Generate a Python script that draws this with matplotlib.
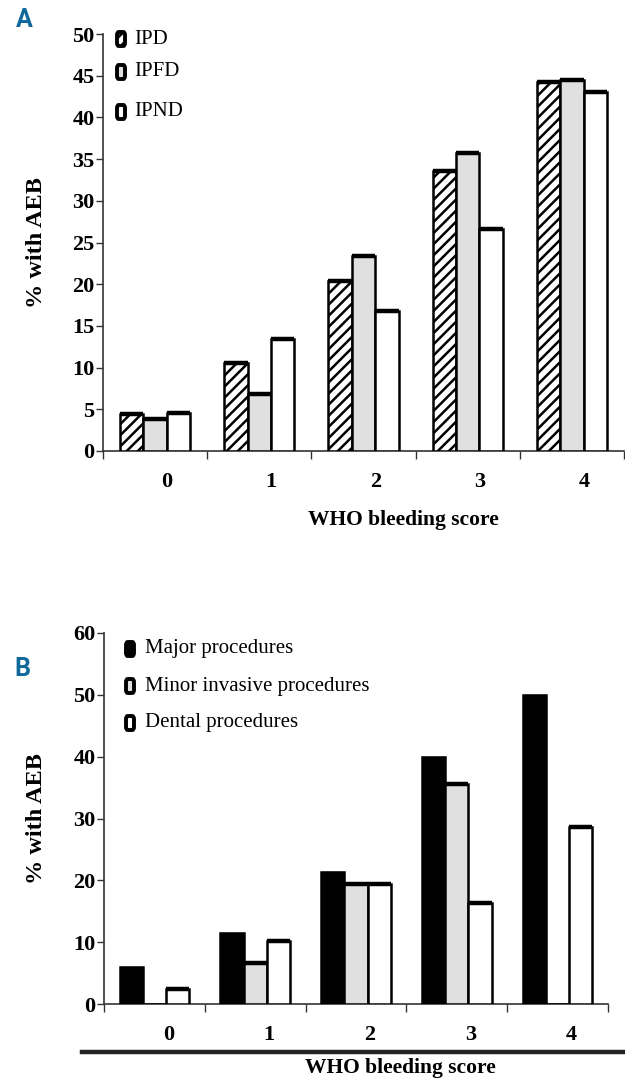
import matplotlib
matplotlib.use("Agg")
import matplotlib.pyplot as plt
import matplotlib.transforms as mtransforms
from matplotlib.lines import Line2D
from matplotlib.patches import FancyBboxPatch
import numpy as np

# ---------------- data ----------------
scores = ["0", "1", "2", "3", "4"]

a_series = ["IPD", "IPFD", "IPND"]
a_ipd = [4.4, 10.6, 20.4, 33.6, 44.2]
a_ipfd = [3.8, 6.8, 23.4, 35.7, 44.5]
a_ipnd = [4.6, 13.4, 16.8, 26.6, 43.0]
a_yticks = [0, 5, 10, 15, 20, 25, 30, 35, 40, 45, 50]

b_series = ["Major procedures", "Minor invasive procedures", "Dental procedures"]
b_major = [6.0, 11.5, 21.4, 40.0, 50.0]
b_minor = [0.0, 6.7, 19.4, 35.6, 0.0]
b_dental = [2.5, 10.2, 19.4, 16.3, 28.6]
b_yticks = [0, 10, 20, 30, 40, 50, 60]

# ---------------- style ----------------
W, H = 625, 1081
DPI = 100
plt.rcParams['hatch.linewidth'] = 1.8
SERIF = ['Liberation Serif', 'DejaVu Serif']
GRAY = '#e0e0e0'
BLUE = '#10699a'
LETTER_FONT = ['Roboto', 'Open Sans', 'DejaVu Sans']

fig = plt.figure(figsize=(W / DPI, H / DPI), dpi=DPI)


def fax(l, t, r, b):
    return [l / W, 1 - b / H, (r - l) / W, (b - t) / H]


def setup_axes(ax, ymax, yticks, label_dx, pad):
    x = np.arange(len(scores))
    ax.set_xlim(-0.5, len(scores) - 0.5)
    ax.set_ylim(0, ymax)
    for s in ['top', 'right']:
        ax.spines[s].set_visible(False)
    for s in ['left', 'bottom']:
        ax.spines[s].set_color('#333333')
        ax.spines[s].set_linewidth(1.2)
    ax.set_xticks(np.arange(-0.5, len(scores)), [])
    ax.tick_params(axis='x', which='major', length=6, width=1.0, color='#333333', direction='out')
    ax.set_xticks(x, scores, minor=True)
    ax.tick_params(axis='x', which='minor', length=0, pad=pad)
    off = mtransforms.ScaledTranslation(label_dx / DPI, 0, fig.dpi_scale_trans)
    for lab in ax.get_xticklabels(minor=True):
        lab.set_fontfamily(SERIF)
        lab.set_fontweight('bold')
        lab.set_fontsize(16)
        lab.set_transform(lab.get_transform() + off)
    ax.set_yticks(yticks, [str(v) for v in yticks])
    ax.tick_params(axis='y', length=5, width=1.0, color='#333333', pad=1)
    for lab in ax.get_yticklabels():
        lab.set_fontfamily(SERIF)
        lab.set_fontweight('bold')
        lab.set_fontsize(16)
    return x


def draw_bars(ax, x, vals, offset, width, face, hatch=None, top_lw=3.2, edge_lw=1.8):
    bars = ax.bar(x + offset, vals, width, color=face, edgecolor='black',
                  linewidth=edge_lw, hatch=hatch, zorder=3)
    vals = np.asarray(vals)
    mask = vals > 0
    ax.hlines(vals[mask], (x + offset - width / 2)[mask], (x + offset + width / 2)[mask],
              color='black', linewidth=top_lw, zorder=4)
    return bars


# ---------------- panel A ----------------
A_L, A_T, A_R, A_B = 103, 34, 624, 451
axA = fig.add_axes(fax(A_L, A_T, A_R, A_B))
xA = setup_axes(axA, 50, a_yticks, 12, 15)
wA = 0.225
draw_bars(axA, xA, a_ipd, -wA, wA, 'white', hatch='///')
draw_bars(axA, xA, a_ipfd, 0, wA, GRAY)
draw_bars(axA, xA, a_ipnd, wA, wA, 'white')
axA.set_ylabel('% with AEB', fontfamily=SERIF, fontweight='bold', fontsize=17.5)
axA.yaxis.set_label_coords((47 - A_L) / (A_R - A_L), 0.5)

# legend A (custom icons)
legA_y = [39, 72, 112]
legA_style = [dict(face='white', hatch='///'), dict(face=GRAY, hatch=None), dict(face='white', hatch=None)]
for name, yy, st in zip(a_series, legA_y, legA_style):
    p = FancyBboxPatch((117 / W, 1 - (yy + 7) / H), 8 / W, 14 / H,
                       boxstyle='round,pad=0.0,rounding_size=0.003',
                       transform=fig.transFigure, facecolor=st['face'], edgecolor='black',
                       linewidth=2.8, hatch=st['hatch'])
    fig.add_artist(p)
    fig.text(134 / W, 1 - yy / H, name, fontfamily=SERIF, fontsize=15, va='center', ha='left')

fig.text(403 / W, 1 - 520 / H, 'WHO bleeding score', fontfamily=SERIF, fontweight='bold',
         fontsize=15.5, ha='center', va='center')
fig.text(24 / W, 1 - 20 / H, 'A', family=LETTER_FONT, fontweight='bold',
         fontsize=18, color=BLUE, ha='center', va='center')

# ---------------- panel B ----------------
B_L, B_T, B_R, B_B = 104, 633, 608, 1004
axB = fig.add_axes(fax(B_L, B_T, B_R, B_B))
xB = setup_axes(axB, 60, b_yticks, 14, 15)
wB = 0.23
draw_bars(axB, xB, b_major, -wB, wB, 'black', top_lw=1.0)
draw_bars(axB, xB, b_minor, 0, wB, GRAY)
draw_bars(axB, xB, b_dental, wB, wB, 'white')
axB.set_ylabel('% with AEB', fontfamily=SERIF, fontweight='bold', fontsize=17.5)
axB.yaxis.set_label_coords((47 - B_L) / (B_R - B_L), 0.5)

legB_y = [649, 686, 723]
legB_face = ['black', GRAY, 'white']
for name, yy, fc in zip(b_series, legB_y, legB_face):
    p = FancyBboxPatch((126 / W, 1 - (yy + 7) / H), 8 / W, 14 / H,
                       boxstyle='round,pad=0.0,rounding_size=0.003',
                       transform=fig.transFigure, facecolor=fc, edgecolor='black',
                       linewidth=2.8)
    fig.add_artist(p)
    fig.text(145 / W, 1 - yy / H, name, fontfamily=SERIF, fontsize=15, va='center', ha='left')

fig.add_artist(Line2D([82 / W, 1.0], [1 - 1052 / H] * 2, color='#222222', linewidth=3.2,
                      transform=fig.transFigure))
fig.text(400 / W, 1 - 1068 / H, 'WHO bleeding score', fontfamily=SERIF, fontweight='bold',
         fontsize=15.5, ha='center', va='center')
fig.text(22 / W, 1 - 669 / H, 'B', family=LETTER_FONT, fontweight='bold',
         fontsize=18, color=BLUE, ha='center', va='center')

fig.savefig('out.png', dpi=DPI)
